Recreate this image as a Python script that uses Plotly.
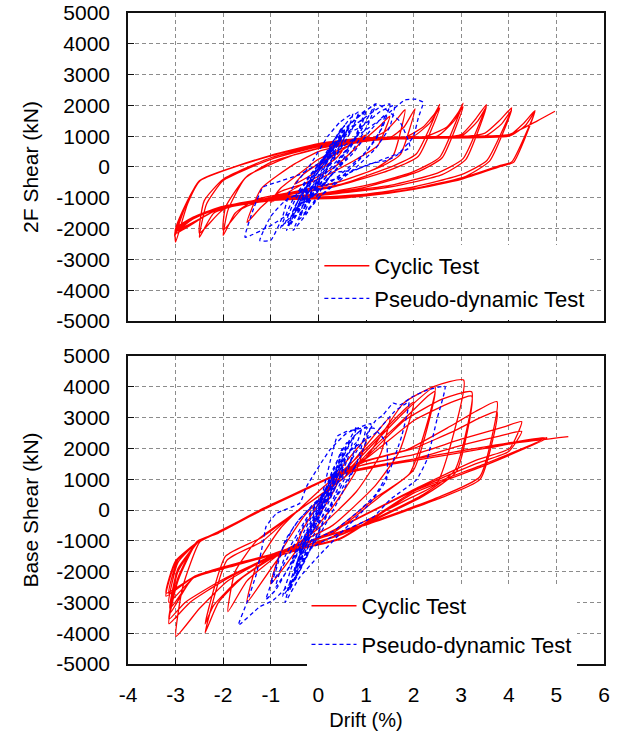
import plotly.graph_objects as go

# ---------------- data (drift %, shear kN) ----------------
# 2F shear - cyclic test (continuous load path)
f2_cyclic = [
    (0, 0), (0.25, 300), (0.5, 520), (0.35, 250), (0, -100), (-0.25, -350), (-0.5, -560), (-0.35, -280), (0, 100),
    (0.5, 550), (1.0, 1050), (0.8, 650), (0.3, -50), (-0.5, -700), (-1.0, -1150), (-0.8, -700), (-0.3, -100), (0, 250),
    (0.5, 600), (1.0, 950), (1.3, 1350), (1.5, 1650), (1.25, 700), (0.8, 250), (0, -400), (-0.8, -800), (-1.2, -1300),
    (-1.5, -1800), (-1.2, -700), (-0.5, 100), (0, 500),
    (0.5, 700), (1.0, 850), (1.4, 1150), (1.65, 1550), (1.82, 1860), (1.57, 370), (1.2, -50), (0.5, -450), (-0.5, -800),
    (-1.3, -1050), (-1.75, -1500), (-2.0, -2220), (-1.9, -1400), (-1.55, -380), (-1.0, 150), (0, 600),
    (0.8, 800), (1.5, 950), (1.8, 1300), (2.03, 1890), (1.72, 400), (1.3, 0), (0.3, -550), (-0.9, -950), (-1.6, -1350),
    (-2.0, -2050), (-1.95, -1300), (-1.5, -300), (-0.5, 400), (0.3, 720),
    (1.0, 850), (1.8, 950), (2.2, 1300), (2.45, 1750), (2.55, 2030), (2.06, 430), (1.6, 50), (0.5, -550), (-0.5, -850),
    (-1.5, -1150), (-2.2, -1500), (-2.5, -2280), (-2.35, -1200), (-2.0, -440), (-1.0, 250), (0, 650),
    (1.0, 880), (2.0, 1000), (2.35, 1450), (2.55, 1920), (2.1, 350), (1.5, -100), (0.3, -650), (-1.0, -1000),
    (-2.0, -1380), (-2.5, -2150), (-2.4, -1100), (-2.0, -400), (-1.0, 300), (0, 680),
    (1.0, 880), (2.2, 960), (2.7, 1300), (2.95, 1800), (3.04, 2070), (2.55, 320), (2.0, -150), (1.0, -600), (0, -870),
    (-1.0, -1000), (-2.07, -1300), (-2.63, -1630), (-3.0, -2000), (-3.0, -2440), (-2.75, -1200), (-2.48, -440),
    (-1.0, 370), (0, 700),
    (1.0, 900), (2.5, 1000), (2.85, 1500), (3.04, 1950), (2.6, 300), (2.1, -150), (1.0, -650), (0, -900),
    (-1.0, -1030), (-2.1, -1320), (-2.65, -1650), (-3.0, -2050), (-3.02, -2250), (-2.8, -1300), (-2.5, -450),
    (-1.0, 360), (0, 720),
    (1.0, 900), (2.5, 950), (3.0, 1050), (3.3, 1550), (3.53, 2030), (3.04, 270), (2.5, -200), (1.5, -600), (0, -900),
    (-1.0, -1020), (-2.1, -1330), (-2.65, -1680), (-3.0, -2100), (-3.0, -2200), (-2.8, -1250), (-2.48, -430),
    (-1.0, 380), (0, 730),
    (1.0, 920), (3.0, 1000), (3.35, 1500), (3.53, 1950), (3.1, 250), (2.6, -250), (1.5, -650), (0, -930),
    (-1.0, -1040), (-2.1, -1340), (-3.0, -2150), (-2.8, -1250), (-2.48, -440), (-1.0, 380), (0, 740),
    (1.0, 930), (3.0, 980), (3.5, 1100), (3.8, 1500), (4.06, 1920), (3.54, 210), (3.0, -250), (2.0, -650),
    (1.0, -880), (0, -980), (-1.0, -1060), (-2.1, -1350), (-2.65, -1700), (-3.0, -2100), (-2.8, -1250),
    (-2.48, -440), (-1.0, 370), (0, 740),
    (1.0, 930), (3.5, 1000), (3.85, 1400), (4.06, 1850), (3.6, 200), (3.1, -300), (2.0, -700), (1.0, -900),
    (0, -1000), (-1.0, -1070), (-2.1, -1360), (-3.0, -2080), (-2.8, -1250), (-2.48, -440), (-1.0, 380), (0, 750),
    (1.0, 940), (3.0, 990), (4.0, 1020), (4.3, 1400), (4.55, 1830), (4.06, 160), (3.82, 50), (2.97, -380),
    (1.99, -710), (1.01, -925), (0.45, -1010), (-1.0, -1080), (-2.1, -1370), (-3.0, -2100), (-2.8, -1250),
    (-2.48, -440), (-1.0, 380), (0, 750),
    (1.0, 940), (4.0, 1000), (4.35, 1350), (4.55, 1800), (4.1, 150), (3.85, 30), (3.0, -400), (2.0, -730),
    (1.0, -940), (0, -1030), (-1.0, -1090), (-2.1, -1380), (-3.0, -2050), (-2.8, -1250), (-2.48, -440),
    (-1.0, 380), (0, 760),
    (1.0, 950), (3.0, 1000), (4.0, 1050), (4.6, 1500), (4.97, 1810),
]

# 2F shear - pseudo-dynamic test
f2_pseudo = [
    (0, 0), (0.15, 300), (0.3, 650), (0.2, 300), (0, -150), (-0.2, -550), (-0.3, -800), (-0.15, -350), (0.1, 200),
    (0.3, 800), (0.5, 1300), (0.4, 850), (0.1, -100), (-0.2, -800), (-0.5, -1500), (-0.6, -1750), (-0.4, -1000),
    (-0.1, -200), (0.3, 700), (0.6, 1300), (0.9, 1700), (1.2, 2050), (1.05, 1400), (0.7, 500), (0.2, -400),
    (-0.3, -1200), (-0.7, -1800), (-0.8, -2000), (-0.55, -1100), (-0.2, -300), (0.3, 600), (0.8, 1400),
    (1.3, 1950), (1.5, 2050), (1.35, 1300), (1.0, 500), (0.5, -200), (0, -800), (-0.6, -1500), (-1.0, -1900),
    (-1.54, -2280), (-1.35, -1300), (-1.16, -650), (-0.88, -500), (-0.4, -250), (0.2, 300), (0.9, 1100),
    (1.4, 1650), (1.82, 2180), (2.05, 2200), (2.2, 2100), (2.1, 1600), (1.99, 970), (1.64, 370), (1.43, 210),
    (1.08, 100), (0.45, -330), (-0.2, -700), (-0.7, -1100), (-1.0, -1600), (-1.23, -2390), (-1.0, -2380),
    (-0.75, -1600), (-0.6, -800), (-0.2, 0), (0.2, 1000), (0.45, 1450), (0.72, 1730), (0.6, 1100), (0.3, 300),
    (0, -400), (-0.4, -1200), (-0.67, -2060), (-0.5, -1300), (-0.2, -500), (0.2, 400), (0.6, 1200), (0.9, 1500),
    (0.75, 900), (0.4, 100), (0, -600), (-0.3, -1300), (-0.53, -2060), (-0.25, -1520), (-0.04, -980), (0.3, -200),
    (0.73, -110), (1.29, 210), (1.92, 640), (1.7, 1500), (1.22, 2050), (0.9, 1200), (0.5, 400), (0.1, -300),
    (-0.3, -1000), (-0.5, -1400), (-0.3, -600), (0.1, 300), (0.5, 1000), (0.3, 400), (0, -100),
    (0.2, 500), (0.55, 1350), (0.4, 800), (0.1, 100), (-0.2, -600), (-0.45, -1350), (-0.3, -800), (-0.05, -150),
    (0.25, 700), (0.65, 1550), (0.85, 1800), (0.7, 1200), (0.35, 300), (0, -500), (-0.35, -1300), (-0.6, -1900),
    (-0.45, -1300), (-0.15, -500), (0.2, 300), (0.5, 1100), (0.8, 1600), (1.0, 1850), (0.85, 1100), (0.5, 200),
    (0.15, -500), (-0.2, -1100), (-0.4, -1600), (-0.25, -900), (0.05, -150), (0.4, 700), (0.6, 1200), (0.45, 600),
    (0.15, -100), (-0.15, -800), (-0.35, -1200), (-0.15, -500), (0.15, 200), (0.45, 900), (0.7, 1450),
    (0.95, 1750), (0.8, 1000), (0.45, 250), (0.1, -450), (-0.25, -1100), (-0.5, -1600), (-0.7, -1850),
    (-0.5, -1100), (-0.2, -350), (0.2, 450), (0.55, 1050), (0.9, 1300), (1.3, 1800), (1.6, 2000), (1.5, 1300),
    (1.2, 600), (0.8, 0), (0.4, -500), (0, -1000), (-0.3, -1500), (-0.1, -900), (0.3, -200), (0.7, 400),
    (1.1, 1200), (1.4, 1700), (1.25, 1000), (0.9, 300), (0.5, -300), (0.2, -700), (-0.1, -1200), (-0.4, -1700),
    (-0.2, -1000), (0.1, -300), (0.35, 450), (0.2, 0),
]

# Base shear - cyclic test
base_cyclic = [
    (0, 0), (0.25, 700), (0.5, 1300), (0.35, 700), (0, -200), (-0.25, -800), (-0.5, -1400), (-0.35, -700), (0, 200),
    (0.5, 1400), (1.0, 2300), (0.8, 1300), (0.3, 100), (-0.5, -1400), (-1.0, -2400), (-0.8, -1400), (-0.3, -200),
    (0.3, 800), (0.9, 1900), (1.5, 3000), (1.3, 1800), (0.8, 600), (0, -600), (-0.8, -1500), (-1.5, -3000),
    (-1.3, -1800), (-0.8, -600), (0, 600),
    (0.6, 1400), (1.2, 2300), (1.7, 3100), (2.0, 3500), (1.7, 1900), (1.2, 800), (0.3, -500), (-0.7, -1300),
    (-1.5, -2300), (-1.9, -3300), (-1.75, -2000), (-1.3, -1000), (-0.5, -100), (0.3, 800),
    (1.0, 1900), (1.85, 3250), (2.45, 4000), (1.92, 1190), (1.2, 400), (0.3, -700), (-0.8, -1400), (-1.6, -2200),
    (-2.1, -3000), (-2.38, -3990), (-1.92, -1630), (-1.19, -1030), (-0.5, -100), (0.5, 1000),
    (1.2, 2100), (1.9, 3100), (2.3, 3700), (2.45, 3850), (2.0, 1300), (1.3, 450), (0.3, -750), (-0.9, -1450),
    (-1.7, -2300), (-2.2, -3100), (-2.38, -3700), (-1.95, -1500), (-1.2, -900), (-0.4, 0), (0.5, 1000),
    (1.0, 1700), (1.79, 3470), (2.42, 4010), (3.05, 4220), (2.49, 870), (1.85, 330), (0.45, -760), (-0.18, -1190),
    (-1.09, -1600), (-1.9, -2300), (-2.5, -3200), (-2.99, -4100), (-2.85, -2500), (-2.49, -1030), (-2.14, -760),
    (-1.23, 0), (-0.25, 700), (0.94, 1630),
    (1.8, 2900), (2.6, 3600), (3.22, 3840), (2.87, 1300), (2.2, 500), (0.45, -800), (-1.0, -1500), (-2.0, -2300),
    (-2.7, -3000), (-3.14, -3690), (-2.95, -2300), (-2.55, -1050), (-2.1, -750), (-1.2, -20), (-0.25, 680),
    (0.94, 1600),
    (2.0, 2900), (2.8, 3500), (3.22, 3700), (2.9, 1250), (2.2, 450), (0.45, -820), (-1.0, -1520), (-2.0, -2250),
    (-2.8, -3000), (-3.14, -3550), (-2.95, -2200), (-2.55, -1020), (-2.1, -740), (-1.2, -10), (-0.25, 690),
    (0.94, 1580),
    (1.85, 1950), (2.76, 2710), (3.3, 3200), (3.75, 3520), (3.39, 1080), (2.5, 400), (1.0, -450), (0.03, -900),
    (-1.0, -1450), (-1.86, -1840), (-2.62, -2170), (-3.12, -3360), (-2.95, -2000), (-2.5, -1000), (-2.1, -730),
    (-1.2, 0), (-0.25, 690), (0.94, 1550),
    (2.0, 2000), (2.9, 2600), (3.4, 3000), (3.75, 3190), (3.4, 1000), (2.5, 350), (1.0, -480), (0.03, -920),
    (-1.0, -1470), (-1.86, -1850), (-2.62, -2200), (-3.12, -3200), (-2.95, -1900), (-2.5, -1000), (-2.1, -720),
    (-1.2, 10), (-0.25, 700), (0.9, 1450),
    (2.0, 1800), (3.0, 2300), (3.9, 2700), (4.27, 2870), (4.02, 2000), (3.33, 1630), (2.13, 760), (0.03, -870),
    (-1.0, -1450), (-2.0, -1900), (-2.62, -2200), (-3.14, -3000), (-2.95, -1700), (-2.5, -1000), (-2.1, -720),
    (-1.2, 0), (-0.25, 700), (0.45, 1150),
    (2.0, 1650), (3.0, 2100), (3.8, 2400), (4.27, 2550), (4.0, 1900), (3.3, 1500), (2.1, 700), (0.03, -880),
    (-1.0, -1460), (-2.0, -1900), (-2.62, -2180), (-3.14, -2710), (-2.95, -1600), (-2.5, -1000), (-2.1, -720),
    (-1.2, 0), (-0.25, 700), (0.45, 1190),
    (2.0, 1650), (3.5, 2050), (4.8, 2360), (3.5, 1500), (2.0, 600), (0.45, -920), (-1.0, -1450), (-2.0, -1850),
    (-2.62, -2170), (-3.2, -2800), (-3.0, -1700), (-2.5, -1000), (-2.1, -710), (-1.2, 0), (-0.25, 700),
    (0.45, 1190),
    (2.0, 1600), (3.5, 2000), (4.8, 2330), (3.5, 1450), (2.0, 550), (0.45, -950), (-1.0, -1460), (-2.0, -1860),
    (-2.62, -2180), (-3.2, -2700), (-3.0, -1650), (-2.5, -1000), (-2.1, -700), (-1.2, 10), (-0.25, 710),
    (0.45, 1200),
    (2.0, 1650), (3.5, 2050), (5.25, 2380),
]

# Base shear - pseudo-dynamic test
base_pseudo = [
    (0, 0), (0.3, 1200), (0.5, 2000), (0.3, 900), (0, -300), (-0.3, -1300), (-0.5, -2100), (-0.3, -1000),
    (0.1, 400), (0.5, 1800), (0.8, 2700), (0.6, 1600), (0.2, 200), (-0.3, -1500), (-0.6, -2600), (-0.4, -1500),
    (0, 0), (0.4, 2400), (0.6, 2550), (0.9, 2650), (1.16, 2660), (1.43, 2170), (1.43, 980), (1.02, 110),
    (0.5, -700), (0, -1500), (-0.4, -2200), (-0.7, -3000), (-0.5, -1900), (-0.2, -800), (0.3, 600), (0.8, 1900),
    (1.2, 2900), (1.36, 3090), (1.57, 3470), (1.71, 3410), (2.0, 3700), (2.3, 3900), (2.66, 4010), (2.5, 3000),
    (2.28, 1630), (2.06, 980), (1.5, 330), (1.16, -220), (0.5, -700), (-0.2, -1300), (-0.53, -2280),
    (-0.95, -2930), (-1.23, -3140), (-1.68, -3740), (-1.5, -3000), (-1.3, -2060), (-1.16, -1030), (-1.1, -540),
    (-0.88, -110), (-0.39, 220), (-0.25, 760), (0.24, 1950), (0.6, 2500), (1.1, 2800), (0.9, 1800), (0.5, 700),
    (0, -400), (-0.5, -1600), (-0.9, -2500), (-0.7, -1500), (-0.3, -400), (0.2, 800), (0.6, 1800), (0.4, 900),
    (0, -200), (-0.4, -1300), (-0.6, -1800), (-0.3, -700), (0.1, 500), (0.5, 1500), (0.3, 700), (0, 0),
    (0.3, 1300), (0.6, 2200), (0.45, 1400), (0.1, 200), (-0.2, -900), (-0.5, -2000), (-0.35, -1200),
    (-0.05, -100), (0.3, 1100), (0.7, 2300), (0.9, 2600), (0.7, 1700), (0.35, 500), (0, -700), (-0.35, -1800),
    (-0.65, -2600), (-0.45, -1700), (-0.15, -600), (0.25, 800), (0.55, 1700), (0.8, 2200), (0.6, 1200),
    (0.3, 200), (-0.05, -900), (-0.4, -2000), (-0.75, -2800), (-0.55, -1800), (-0.25, -700), (0.1, 500),
    (0.45, 1500), (0.75, 2400), (1.0, 2700), (0.8, 1500), (0.45, 400), (0.1, -600), (-0.25, -1500),
    (-0.5, -2300), (-0.3, -1300), (0, -300), (0.35, 900), (0.65, 1900), (1.2, 2500), (1.6, 3200), (1.9, 3500),
    (1.75, 2400), (1.5, 1300), (1.2, 500), (0.8, -100), (0.3, -700), (-0.15, -1000), (-0.45, -1900),
    (-0.25, -900), (0.05, 100), (0.4, 1200), (0.2, 400), (-0.2, -600), (-0.6, -1800), (-0.9, -2600),
    (-1.1, -2900), (-0.9, -2000), (-0.7, -1000), (-0.4, -300), (0, 300), (-0.3, -500), (-0.7, -1700),
    (-1.0, -2400), (-0.8, -1400), (-0.5, -500), (-0.1, 200), (0.2, 600), (0, -100),
]

# axis ticks
drift_ticks = [-4, -3, -2, -1, 0, 1, 2, 3, 4, 5, 6]
drift_labels = ["-4", "-3", "-2", "-1", "0", "1", "2", "3", "4", "5", "6"]
shear_ticks = [-5000, -4000, -3000, -2000, -1000, 0, 1000, 2000, 3000, 4000, 5000]
shear_labels = ["-5000", "-4000", "-3000", "-2000", "-1000", "0", "1000", "2000", "3000", "4000", "5000"]

# ---------------- figure ----------------
FONT = "Liberation Sans, Arial, sans-serif"
RED = "#ff0000"
BLUE = "#0000ff"
DASH = "4px,3px"


def split(pairs):
    return [p[0] for p in pairs], [p[1] for p in pairs]


fig = go.Figure()

x, y = split(f2_cyclic)
fig.add_trace(go.Scatter(x=x, y=y, mode="lines", name="Cyclic Test", xaxis="x2", yaxis="y2",
                         line=dict(color=RED, width=1.3, shape="spline", smoothing=0.5),
                         legend="legend", legendgroup="a"))
x, y = split(f2_pseudo)
fig.add_trace(go.Scatter(x=x, y=y, mode="lines", name="Pseudo-dynamic Test", xaxis="x2", yaxis="y2",
                         line=dict(color=BLUE, width=1.3, dash=DASH, shape="spline", smoothing=0.4),
                         legend="legend", legendgroup="b"))
x, y = split(base_cyclic)
fig.add_trace(go.Scatter(x=x, y=y, mode="lines", name="Cyclic Test", xaxis="x", yaxis="y",
                         line=dict(color=RED, width=1.3, shape="spline", smoothing=0.5),
                         legend="legend2", legendgroup="c"))
x, y = split(base_pseudo)
fig.add_trace(go.Scatter(x=x, y=y, mode="lines", name="Pseudo-dynamic Test", xaxis="x", yaxis="y",
                         line=dict(color=BLUE, width=1.3, dash=DASH, shape="spline", smoothing=0.4),
                         legend="legend2", legendgroup="d"))

axis_common = dict(
    showgrid=True, gridcolor="#8c8c8c", gridwidth=1, griddash="4px,3px",
    showline=True, linecolor="#111111", linewidth=1.6, mirror=True,
    ticks="inside", ticklen=6, tickcolor="#111111", tickwidth=1,
    zeroline=False, tickfont=dict(family=FONT, size=21, color="black"),
)
xcommon = dict(axis_common, domain=[0, 1], range=[-4, 6], tickmode="array",
               tickvals=drift_ticks, ticktext=drift_labels)
ycommon = dict(axis_common, range=[-5000, 5000], tickmode="array",
               tickvals=shear_ticks, ticktext=shear_labels, ticklabelstandoff=12)

fig.update_layout(
    width=619, height=735,
    margin=dict(l=128, r=15, t=13, b=71, autoexpand=False),
    paper_bgcolor="white", plot_bgcolor="white",
    font=dict(family=FONT, size=21, color="black"),
    xaxis=dict(xcommon, anchor="y", ticklabelstandoff=11,
               title=dict(text="Drift (%)", font=dict(size=20), standoff=8)),
    yaxis=dict(ycommon, domain=[0, 0.4731], anchor="x",
               title=dict(text="Base Shear (kN)", font=dict(size=21), standoff=12)),
    xaxis2=dict(xcommon, anchor="y2", showticklabels=False, matches="x"),
    yaxis2=dict(ycommon, domain=[0.5269, 1], anchor="x2",
                title=dict(text="2F Shear (kN)", font=dict(size=21), standoff=12)),
    legend=dict(x=0.402, y=0.5285, xanchor="left", yanchor="bottom", bgcolor="white",
                borderwidth=0, font=dict(family=FONT, size=22), itemwidth=45, tracegroupgap=1),
    legend2=dict(x=0.375, y=-0.003, xanchor="left", yanchor="bottom", bgcolor="white",
                 borderwidth=0, font=dict(family=FONT, size=22), itemwidth=45, tracegroupgap=7),
    showlegend=True,
)

fig.write_html("out.html")
